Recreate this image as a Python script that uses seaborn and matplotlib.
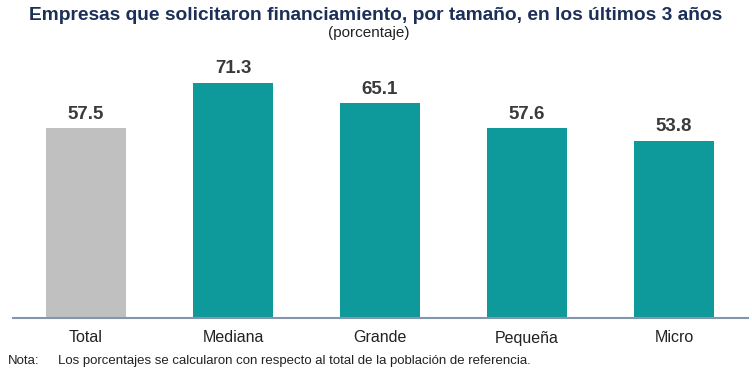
import pandas as pd
import matplotlib.pyplot as plt
import seaborn as sns

categorias = ['Total', 'Mediana', 'Grande', 'Pequeña', 'Micro']
porcentajes = [57.5, 71.3, 65.1, 57.6, 53.8]
colores = ['#C0C0C0', '#0E9A9A', '#0E9A9A', '#0E9A9A', '#0E9A9A']

df = pd.DataFrame({'tamano': categorias, 'pct': porcentajes})

sns.set_style('white')
plt.rcParams['font.family'] = ['Liberation Sans', 'DejaVu Sans']

fig = plt.figure(figsize=(7.52, 3.68), dpi=100)
ax = fig.add_axes([12.5 / 752, 50 / 368, 735 / 752, 258 / 368])

sns.barplot(x='tamano', y='pct', data=df, hue='tamano', palette=colores,
            legend=False, width=0.55, ax=ax, saturation=1, linewidth=0)

for i, v in enumerate(porcentajes):
    ax.text(i, v + 1.6, f'{v:.1f}', ha='center', va='bottom',
            fontsize=13.5, fontweight='bold', color='#3A3A3A')

ax.set_xlim(-0.5, 4.5)
ax.set_ylim(0, 78.2)
ax.set_yticks([])
ax.set_xlabel('')
ax.set_ylabel('')
for s in ['top', 'right', 'left']:
    ax.spines[s].set_visible(False)
ax.spines['bottom'].set_color('#8496AE')
ax.spines['bottom'].set_linewidth(1.5)
ax.tick_params(axis='x', length=0, pad=9, labelsize=11.5, labelcolor='#222222')

fig.text(0.5, 1 - 15 / 368, 'Empresas que solicitaron financiamiento, por tamaño, en los últimos 3 años',
         ha='center', va='center', fontsize=13.8, fontweight='bold', color='#1B2F57')
fig.text(0.49, 1 - 33 / 368, '(porcentaje)', ha='center', va='center', fontsize=11, color='#222222')

fig.text(8 / 752, 1 - 361 / 368, 'Nota:', ha='left', va='center', fontsize=9.5, color='#222222')
fig.text(58 / 752, 1 - 361 / 368, 'Los porcentajes se calcularon con respecto al total de la población de referencia.',
         ha='left', va='center', fontsize=9.5, color='#222222')

plt.savefig('out.png', dpi=100)
